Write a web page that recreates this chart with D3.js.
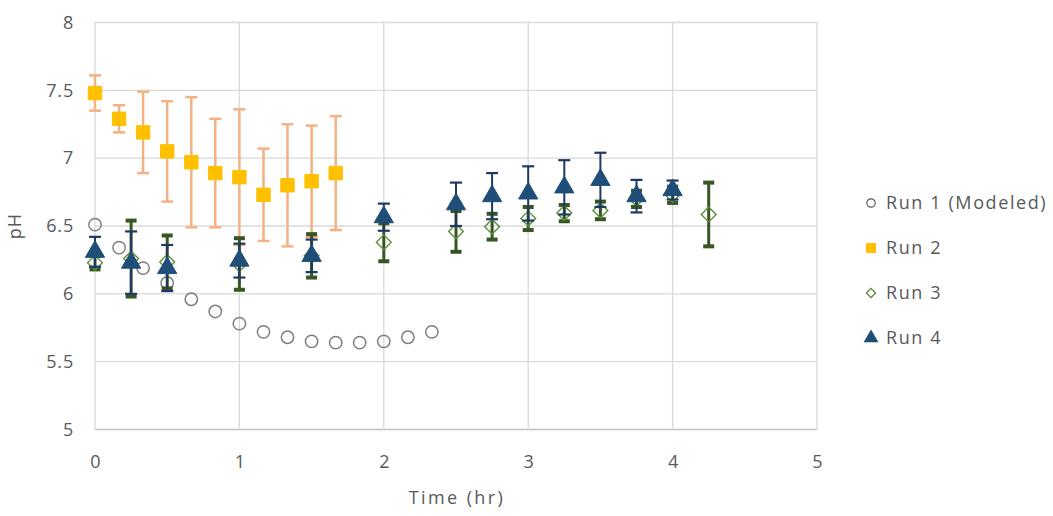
<!DOCTYPE html>
<html>
<head>
<meta charset="utf-8">
<script src="https://cdn.jsdelivr.net/npm/d3@7/dist/d3.min.js"></script>
<style>
  html, body { margin: 0; padding: 0; background: #fff; }
  svg { display: block; }
  text { font-family: "Open Sans", Lato, "Liberation Sans", sans-serif; fill: #595959; }
</style>
</head>
<body>
<svg id="chart" width="1053" height="516"></svg>
<script>
// pH measurements over time for four runs (time in hours)
const run1Time = [0, 0.167, 0.333, 0.5, 0.667, 0.833, 1.0, 1.167, 1.333, 1.5, 1.667, 1.833, 2.0, 2.167, 2.333];
const run1PH   = [6.51, 6.34, 6.19, 6.08, 5.96, 5.87, 5.78, 5.72, 5.68, 5.65, 5.64, 5.64, 5.65, 5.68, 5.72];

const run2Time = [0, 0.167, 0.333, 0.5, 0.667, 0.833, 1.0, 1.167, 1.333, 1.5, 1.667];
const run2PH   = [7.48, 7.29, 7.19, 7.05, 6.97, 6.89, 6.86, 6.73, 6.80, 6.83, 6.89];
const run2Err  = [0.13, 0.10, 0.30, 0.37, 0.48, 0.40, 0.50, 0.34, 0.45, 0.41, 0.42];

const run3Time = [0, 0.25, 0.5, 1.0, 1.5, 2.0, 2.5, 2.75, 3.0, 3.25, 3.5, 3.75, 4.0, 4.25];
const run3PH   = [6.23, 6.26, 6.235, 6.22, 6.28, 6.38, 6.46, 6.495, 6.555, 6.595, 6.615, 6.70, 6.73, 6.585];
const run3Err  = [0.05, 0.28, 0.195, 0.19, 0.16, 0.14, 0.15, 0.095, 0.085, 0.06, 0.065, 0.06, 0.06, 0.235];

const run4Time = [0, 0.25, 0.5, 1.0, 1.5, 2.0, 2.5, 2.75, 3.0, 3.25, 3.5, 3.75, 4.0];
const run4PH   = [6.31, 6.23, 6.19, 6.245, 6.28, 6.565, 6.66, 6.72, 6.74, 6.785, 6.84, 6.72, 6.765];
const run4Err  = [0.11, 0.23, 0.17, 0.125, 0.12, 0.1, 0.16, 0.17, 0.2, 0.2, 0.2, 0.12, 0.07];

const xTicks = [0, 1, 2, 3, 4, 5];
const yTicks = [5, 5.5, 6, 6.5, 7, 7.5, 8];
const legendLabels = ["Run 1 (Modeled)", "Run 2", "Run 3", "Run 4"];

const svg = d3.select("#chart");
const plotLeft = 95, plotRight = 817, plotTop = 22.5, plotBottom = 429.5;
const fontSize = "18px";

const x = d3.scaleLinear().domain([0, 5]).range([plotLeft, plotRight]);
const y = d3.scaleLinear().domain([5, 8]).range([plotBottom, plotTop]);

// gridlines
const grid = svg.append("g");
grid.selectAll(".hg").data(yTicks).enter().append("line")
  .attr("x1", plotLeft).attr("x2", plotRight)
  .attr("y1", d => y(d)).attr("y2", d => y(d))
  .attr("stroke", d => d === 5 ? "#bfbfbf" : "#d9d9d9").attr("stroke-width", 1.3);
grid.selectAll(".vg").data(xTicks).enter().append("line")
  .attr("y1", plotTop).attr("y2", plotBottom)
  .attr("x1", d => x(d)).attr("x2", d => x(d))
  .attr("stroke", "#d9d9d9").attr("stroke-width", 1.3);

// axis tick labels
const yAxis = d3.axisLeft(y).tickValues(yTicks).tickSize(0).tickPadding(21)
  .tickFormat(d3.format("~g"));
const gy = svg.append("g").attr("transform", `translate(${plotLeft},0)`).call(yAxis);
gy.select(".domain").remove();
gy.selectAll("text").style("font-size", fontSize).attr("fill", "#595959")
  .style("font-family", '"Open Sans", Lato, sans-serif').style("letter-spacing", "0.8px");

const xAxis = d3.axisBottom(x).tickValues(xTicks).tickSize(0).tickPadding(26)
  .tickFormat(d3.format("d"));
const gx = svg.append("g").attr("transform", `translate(0,${plotBottom})`).call(xAxis);
gx.select(".domain").remove();
gx.selectAll("text").style("font-size", fontSize).attr("fill", "#595959")
  .style("font-family", '"Open Sans", Lato, sans-serif');

svg.append("text").attr("x", (plotLeft + plotRight) / 2 + 1).attr("y", 504)
  .attr("text-anchor", "middle").style("font-size", fontSize)
  .style("letter-spacing", "2.4px").text("Time (hr)");
svg.append("text").attr("transform", "translate(21,226) rotate(-90)")
  .attr("text-anchor", "middle").style("font-size", fontSize)
  .style("letter-spacing", "1px").text("pH");

// vertical error bars with caps
function errorBars(times, vals, errs, color, width, capW, capH) {
  const g = svg.append("g");
  const rows = times.map((t, i) => ({ t, v: vals[i], e: errs[i] }));
  g.selectAll("line.v").data(rows).enter().append("line")
    .attr("x1", d => x(d.t)).attr("x2", d => x(d.t))
    .attr("y1", d => y(d.v + d.e)).attr("y2", d => y(d.v - d.e))
    .attr("stroke", color).attr("stroke-width", width);
  [1, -1].forEach(s => {
    g.selectAll("line.c" + (s > 0 ? "u" : "d")).data(rows).enter().append("line")
      .attr("x1", d => x(d.t) - capW / 2).attr("x2", d => x(d.t) + capW / 2)
      .attr("y1", d => y(d.v + s * d.e)).attr("y2", d => y(d.v + s * d.e))
      .attr("stroke", color).attr("stroke-width", capH);
  });
}

function markers(times, vals, type, size, fill, stroke, sw) {
  svg.append("g").selectAll("path").data(times.map((t, i) => [t, vals[i]])).enter()
    .append("path")
    .attr("transform", d => `translate(${x(d[0])},${y(d[1])})`)
    .attr("d", d3.symbol().type(type).size(size))
    .attr("fill", fill).attr("stroke", stroke).attr("stroke-width", sw);
}

// Run 1 (modeled): open gray circles
markers(run1Time, run1PH, d3.symbolCircle, 120, "none", "#7f7f7f", 1.5);

// Run 2: gold squares with light orange error bars
errorBars(run2Time, run2PH, run2Err, "#f4b183", 2.5, 12, 2.5);
markers(run2Time, run2PH, d3.symbolSquare, 180, "#ffc000", "#ffc000", 1);

// Run 3: open green diamonds with dark green error bars
errorBars(run3Time, run3PH, run3Err, "#375623", 3, 11, 4);
markers(run3Time, run3PH, d3.symbolDiamond2, 140, "none", "#5e8f3a", 1.4);

// Run 4: navy triangles with navy error bars
errorBars(run4Time, run4PH, run4Err, "#203864", 2, 12, 2.2);
markers(run4Time, run4PH, d3.symbolTriangle, 160, "#1f4e79", "#1f4e79", 1);

// legend
const legendTypes = [d3.symbolCircle, d3.symbolSquare, d3.symbolDiamond2, d3.symbolTriangle];
const legendFill = ["none", "#ffc000", "none", "#1f4e79"];
const legendStroke = ["#595959", "#ffc000", "#548235", "#1f4e79"];
const legendSizes = [55, 80, 55, 70];
const lg = svg.append("g");
legendLabels.forEach((lab, i) => {
  const ly = 203 + i * 45;
  lg.append("path").attr("transform", `translate(871,${ly})`)
    .attr("d", d3.symbol().type(legendTypes[i]).size(legendSizes[i]))
    .attr("fill", legendFill[i]).attr("stroke", legendStroke[i]).attr("stroke-width", 1.2);
  lg.append("text").attr("x", 886).attr("y", ly).attr("dy", "0.35em")
    .style("font-size", fontSize).style("letter-spacing", "1.6px").text(lab);
});
</script>
</body>
</html>
